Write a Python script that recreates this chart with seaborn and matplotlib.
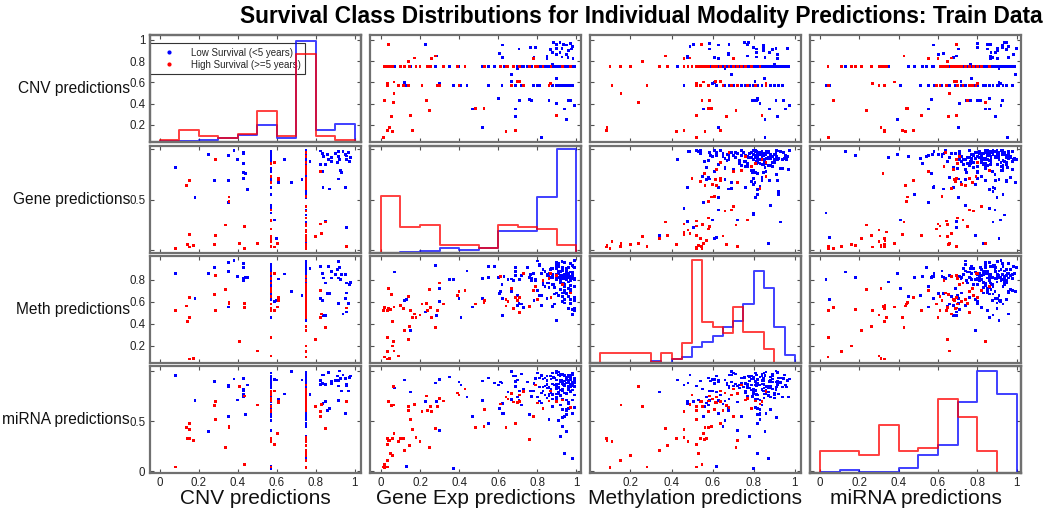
import matplotlib
matplotlib.use("Agg")
import matplotlib.pyplot as plt
from matplotlib.lines import Line2D
import pandas as pd
import seaborn as sns

# ---------------- text ----------------
title = "Survival Class Distributions for Individual Modality Predictions: Train Data"
variables = ["cnv", "gene", "meth", "mirna"]
row_labels = ["CNV predictions", "Gene predictions", "Meth predictions", "miRNA predictions"]
col_labels = ["CNV predictions", "Gene Exp predictions", "Methylation predictions", "miRNA predictions"]
class_labels = ["Low Survival (<5 years)", "High Survival (>=5 years)"]

# ---------------- per-sample predictions: Low Survival (blue) ----------------
low_cnv = [
    0.08, 0.18, 0.25, 0.28, 0.35, 0.35, 0.35, 0.38, 0.40, 0.43,
    0.43, 0.43, 0.43, 0.44, 0.43, 0.45, 0.61, 0.64, 0.675, 0.59,
    0.60, 0.73, 0.77, 0.825, 0.833, 0.84, 0.85, 0.867, 0.88, 0.915,
    0.918, 0.923, 0.913, 0.952, 0.957, 0.978, 0.973, 0.825, 0.833, 0.927,
    0.932, 0.915, 0.837, 0.87, 0.952, 0.85, 0.957, 0.86, 0.94, 0.90,
    0.97, 0.96, 0.88,
    0.57, 0.57, 0.57, 0.57, 0.57, 0.57, 0.57, 0.57, 0.57, 0.57, 0.57,
    0.57, 0.57, 0.57, 0.57, 0.57, 0.57, 0.57, 0.57, 0.57, 0.57, 0.57,
    0.75, 0.75, 0.75, 0.75, 0.75, 0.75, 0.75, 0.75, 0.75, 0.75,
    0.75, 0.75, 0.75, 0.75, 0.75, 0.75, 0.75, 0.75, 0.75, 0.75,
    0.75, 0.75, 0.75, 0.75, 0.75, 0.75, 0.75, 0.75, 0.75, 0.75,
    0.75, 0.75, 0.75, 0.75, 0.75, 0.75, 0.75, 0.75, 0.75, 0.75,
    0.75, 0.75, 0.75, 0.75, 0.75, 0.75, 0.75, 0.75, 0.75, 0.75,
    0.75, 0.75, 0.75, 0.75, 0.75, 0.75, 0.75, 0.75, 0.75, 0.75,
    0.75, 0.75, 0.75, 0.75, 0.75, 0.75, 0.75, 0.75, 0.75, 0.75,
    0.75, 0.75, 0.75, 0.75, 0.75, 0.75, 0.75, 0.75, 0.75, 0.75,
    0.75, 0.75, 0.75, 0.75, 0.75, 0.75, 0.75, 0.75, 0.75, 0.75,
    0.75, 0.75, 0.75, 0.75, 0.75, 0.75, 0.75, 0.75, 0.75, 0.75,
    0.75, 0.75, 0.75, 0.75, 0.75, 0.75, 0.75, 0.75, 0.75, 0.75,
    0.75, 0.75, 0.75, 0.75, 0.75, 0.75, 0.75, 0.75, 0.75, 0.75,
    0.75, 0.75, 0.75, 0.75, 0.75,
]
low_gene = [
    0.82, 0.52, 0.95, 0.69, 0.94, 0.69, 0.47, 0.99, 0.90, 0.97,
    0.96, 0.86, 0.77, 0.76, 0.71, 0.60, 0.67, 0.90, 0.67, 0.30,
    0.12, 0.70, 0.88, 0.983, 0.957, 0.927, 0.85, 0.90, 0.917, 0.977,
    0.927, 0.90, 0.867, 0.95, 0.933, 0.917, 0.883, 0.85, 0.783, 0.793,
    0.767, 0.707, 0.623, 0.607, 0.623, 0.283, 0.227, 0.95, 0.98, 0.96,
    0.97, 0.90, 0.88,
    0.13, 0.30, 0.37, 0.41, 0.44, 0.55, 0.62, 0.69, 0.72, 0.78, 0.80,
    0.81, 0.88, 0.91, 0.92, 0.93, 0.94, 0.95, 0.96, 0.97, 0.98, 0.90,
    0.96, 0.91, 0.84, 0.99, 0.93, 0.72, 0.97, 0.88, 0.95, 0.92,
    0.86, 0.98, 0.94, 0.90, 0.63, 0.97, 0.83, 0.95, 0.99, 0.91,
    0.93, 0.81, 0.96, 0.58, 0.92, 0.89, 0.98, 0.94, 0.77, 0.90,
    0.97, 0.85, 0.93, 0.95, 0.40, 0.91, 0.99, 0.87, 0.96, 0.92,
    0.82, 0.94, 0.98, 0.68, 0.90, 0.95, 0.86, 0.97, 0.93, 0.15,
    0.91, 0.99, 0.84, 0.96, 0.92, 0.75, 0.94, 0.88, 0.98, 0.90,
    0.95, 0.83, 0.97, 0.93, 0.52, 0.91, 0.86, 0.99, 0.96, 0.89,
    0.92, 0.98, 0.80, 0.94, 0.97, 0.65, 0.90, 0.95, 0.85, 0.93,
    0.99, 0.87, 0.91, 0.96, 0.28, 0.98, 0.82, 0.94, 0.92, 0.73,
    0.96, 0.90, 0.88, 0.97, 0.93, 0.84, 0.99, 0.61, 0.95, 0.91,
    0.86, 0.94, 0.98, 0.92, 0.79, 0.96, 0.89, 0.93, 0.35, 0.97,
    0.90, 0.83, 0.95, 0.99, 0.87, 0.92, 0.55, 0.98, 0.94, 0.81,
    0.93, 0.96, 0.07, 0.85, 0.70,
]
low_meth = [
    0.855, 0.63, 0.855, 0.914, 0.954, 0.877, 0.554, 0.975, 0.83, 0.945,
    0.908, 0.815, 0.794, 0.82, 0.80, 0.82, 0.806, 0.852, 0.69, 0.60,
    0.61, 0.66, 0.90, 0.917, 0.855, 0.815, 0.77, 0.917, 0.877, 0.815,
    0.963, 0.908, 0.892, 0.846, 0.77, 0.775, 0.754, 0.63, 0.61, 0.80,
    0.846, 0.585, 0.477, 0.677, 0.63, 0.477, 0.508, 0.677, 0.49, 0.846,
    0.585, 0.68, 0.815,
    0.62, 0.72, 0.80, 0.46, 0.88, 0.92, 0.76, 0.84, 0.58, 0.86, 0.70,
    0.94, 0.82, 0.66, 0.78, 0.88, 0.74, 0.90, 0.54, 0.82, 0.86, 0.68,
    0.82, 0.87, 0.74, 0.91, 0.68, 0.84, 0.79, 0.56, 0.88, 0.81,
    0.77, 0.93, 0.62, 0.85, 0.83, 0.71, 0.89, 0.80, 0.52, 0.86,
    0.84, 0.66, 0.78, 0.92, 0.82, 0.73, 0.87, 0.59, 0.81, 0.96,
    0.69, 0.85, 0.76, 0.83, 0.63, 0.88, 0.80, 0.90, 0.72, 0.84,
    0.57, 0.81, 0.86, 0.79, 0.94, 0.67, 0.83, 0.75, 0.89, 0.34,
    0.82, 0.61, 0.87, 0.78, 0.84, 0.91, 0.70, 0.85, 0.53, 0.80,
    0.88, 0.76, 0.83, 0.65, 0.81, 0.92, 0.86, 0.74, 0.82, 0.58,
    0.79, 0.84, 0.97, 0.68, 0.87, 0.80, 0.43, 0.83, 0.77, 0.89,
    0.64, 0.82, 0.86, 0.72, 0.93, 0.81, 0.66, 0.85, 0.78, 0.55,
    0.84, 0.90, 0.76, 0.83, 0.60, 0.88, 0.81, 0.69, 0.86, 0.95,
    0.73, 0.82, 0.48, 0.87, 0.79, 0.84, 0.67, 0.91, 0.80, 0.62,
    0.85, 0.77, 0.83, 0.54, 0.89, 0.71, 0.82, 0.86, 0.76, 0.93,
    0.81, 0.65, 0.87, 0.84, 0.57,
]
low_mirna = [
    0.953, 0.703, 0.393, 0.893, 0.86, 0.843, 0.55, 0.92, 0.71, 0.927,
    0.817, 0.767, 0.743, 0.567, 0.80, 0.86, 0.717, 0.77, 0.993, 0.917,
    0.91, 0.91, 0.767, 0.867, 0.96, 0.96, 0.867, 0.983, 0.893, 0.85,
    0.903, 1.0, 0.95, 0.927, 0.867, 0.95, 0.937, 0.903, 0.877, 0.927,
    0.80, 0.703, 0.677, 0.627, 0.577, 0.693, 0.693, 0.603, 0.96, 0.903,
    0.80, 0.85, 0.87,
    0.05, 0.41, 0.03, 0.86, 0.74, 0.93, 0.88, 0.95, 0.66, 0.80, 0.98,
    0.84, 0.72, 0.51, 0.90, 0.62, 0.55, 0.78, 0.69, 0.91, 0.58, 0.83,
    0.88, 0.79, 0.93, 0.84, 0.72, 0.97, 0.86, 0.65, 0.91, 0.81,
    0.75, 0.89, 0.95, 0.83, 0.58, 0.87, 0.92, 0.77, 0.85, 0.99,
    0.82, 0.70, 0.94, 0.88, 0.76, 0.86, 0.13, 0.90, 0.80, 0.84,
    0.96, 0.73, 0.87, 0.62, 0.89, 0.83, 0.93, 0.78, 0.85, 0.91,
    0.68, 0.86, 0.81, 0.95, 0.74, 0.88, 0.52, 0.84, 0.97, 0.79,
    0.87, 0.92, 0.76, 0.83, 0.66, 0.89, 0.85, 0.98, 0.71, 0.82,
    0.94, 0.80, 0.86, 0.45, 0.90, 0.77, 0.84, 0.88, 0.63, 0.93,
    0.81, 0.87, 0.74, 0.96, 0.85, 0.79, 0.91, 0.57, 0.83, 0.89,
    0.76, 0.92, 0.84, 0.69, 0.88, 0.98, 0.78, 0.86, 0.35, 0.82,
    0.90, 0.73, 0.87, 0.94, 0.80, 0.85, 0.64, 0.89, 0.77, 0.96,
    0.83, 0.18, 0.88, 0.75, 0.92, 0.81, 0.86, 0.54, 0.94, 0.79,
    0.87, 0.84, 0.71, 0.90, 0.82, 0.97, 0.48, 0.85, 0.78, 0.93,
    0.89, 0.67, 0.83, 0.95, 0.74,
]

# ---------------- per-sample predictions: High Survival (red) ----------------
high_cnv = [
    0.957, 0.83, 0.80, 0.825, 0.85, 0.825, 0.50, 0.434, 0.41, 0.434,
    0.337, 0.28, 0.286, 0.354, 0.354, 0.286, 0.173, 0.15, 0.14, 0.15,
    0.136, 0.15, 0.08, 0.587, 0.607, 0.607, 0.604, 0.59,
    0.57, 0.57, 0.57, 0.57, 0.57, 0.57, 0.57, 0.57, 0.57, 0.57, 0.57,
    0.75, 0.75, 0.75, 0.75, 0.75, 0.75, 0.75, 0.75, 0.75, 0.75,
    0.75, 0.75, 0.75, 0.75, 0.75, 0.75, 0.75, 0.75, 0.75, 0.75,
    0.75, 0.75, 0.75, 0.75, 0.75, 0.75, 0.75, 0.75,
]
high_gene = [
    0.04, 0.17, 0.14, 0.26, 0.28, 0.78, 0.067, 0.017, 0.065, 0.233,
    0.25, 0.055, 0.15, 0.527, 0.483, 0.90, 0.045, 0.033, 0.058, 0.16,
    0.64, 0.69, 0.015, 0.867, 0.71, 0.70, 0.067, 0.033,
    0.034, 0.088, 0.114, 0.141, 0.21, 0.29, 0.30, 0.40, 0.67, 0.73, 0.86,
    0.017, 0.034, 0.06, 0.12, 0.145, 0.18, 0.24, 0.255, 0.32, 0.64,
    0.39, 0.43, 0.79, 0.83, 0.61, 0.65, 0.68, 0.71, 0.87, 0.04,
    0.10, 0.20, 0.05, 0.97, 0.93, 0.80, 0.76, 0.53,
]
high_meth = [
    0.545, 0.49, 0.26, 0.46, 0.37, 0.70, 0.154, 0.548, 0.24, 0.585,
    0.714, 0.668, 0.523, 0.594, 0.58, 0.84, 0.086, 0.083, 0.425, 0.46,
    0.563, 0.637, 0.523, 0.86, 0.637, 0.615, 0.554, 0.523,
    0.28, 0.11, 0.54, 0.65, 0.58, 0.52, 0.77, 0.69, 0.72, 0.86, 0.81,
    0.10, 0.15, 0.20, 0.34, 0.38, 0.46, 0.52, 0.55, 0.58, 0.62,
    0.66, 0.70, 0.74, 0.79, 0.83, 0.60, 0.54, 0.50, 0.64, 0.72,
    0.57, 0.48, 0.53, 0.68, 0.76, 0.62, 0.56, 0.61,
]
high_mirna = [
    0.693, 0.667, 0.65, 0.60, 0.427, 0.55, 0.66, 0.07, 0.843, 0.75,
    0.237, 0.653, 0.517, 0.443, 0.44, 0.693, 0.31, 0.327, 0.327, 0.42,
    0.433, 0.477, 0.043, 0.80, 0.693, 0.683, 0.377, 0.267,
    0.043, 0.30, 0.327, 0.61, 0.593, 0.643, 0.727, 0.76, 0.777, 0.793, 0.70,
    0.04, 0.11, 0.16, 0.21, 0.26, 0.34, 0.61, 0.65, 0.70, 0.74,
    0.78, 0.82, 0.86, 0.63, 0.67, 0.72, 0.69, 0.76, 0.80, 0.31,
    0.33, 0.30, 0.18, 0.64, 0.71, 0.68, 0.32, 0.62,
]

# ---------------- diagonal histograms (bin edges, relative heights as drawn) ----------------
cnv_edges = [0.0, 0.1, 0.2, 0.3, 0.4, 0.5, 0.6, 0.7, 0.8, 0.9, 1.0]
cnv_hist_low = [0.009, 0.009, 0.022, 0.040, 0.062, 0.163, 0.040, 0.948, 0.108, 0.169]
cnv_hist_high = [0.022, 0.114, 0.055, 0.040, 0.074, 0.292, 0.055, 0.825, 0.055, 0.022]
gene_edges = [0.0, 0.1, 0.2, 0.3, 0.4, 0.5, 0.6, 0.7, 0.8, 0.9, 1.0]
gene_hist_low = [0.0, 0.009, 0.016, 0.047, 0.031, 0.047, 0.204, 0.204, 0.522, 0.969]
gene_hist_high = [0.535, 0.245, 0.264, 0.072, 0.072, 0.047, 0.264, 0.245, 0.220, 0.072]
meth_edges = [0.05, 0.10, 0.15, 0.20, 0.25, 0.30, 0.35, 0.40, 0.45, 0.50,
              0.55, 0.60, 0.65, 0.70, 0.75, 0.80, 0.85, 0.90, 0.95, 1.00]
meth_hist_low = [0.0, 0.0, 0.0, 0.0, 0.0, 0.016, 0.0, 0.041, 0.057, 0.151,
                 0.198, 0.252, 0.333, 0.396, 0.550, 0.858, 0.700, 0.333, 0.079]
meth_hist_high = [0.094, 0.094, 0.094, 0.094, 0.094, 0.009, 0.094, 0.041, 0.189, 0.959,
                  0.387, 0.340, 0.283, 0.522, 0.292, 0.292, 0.135, 0.0, 0.0]
mirna_edges = [0.0, 0.1, 0.2, 0.3, 0.4, 0.5, 0.6, 0.7, 0.8, 0.9, 1.0]
mirna_hist_low = [0.006, 0.025, 0.006, 0.006, 0.047, 0.166, 0.259, 0.666, 0.956, 0.738]
mirna_hist_high = [0.206, 0.206, 0.166, 0.447, 0.206, 0.238, 0.691, 0.519, 0.206, 0.0]

# ---------------- axes ranges and ticks ----------------
x_limits = {"cnv": (-0.054, 1.03), "gene": (-0.056, 1.024), "meth": (0.003, 1.03), "mirna": (-0.051, 1.022)}
y_limits = {"cnv": (0.04, 1.047), "gene": (-0.027, 1.033), "meth": (0.046, 1.015), "mirna": (-0.017, 1.05)}
x_ticks = {"cnv": [0, 0.2, 0.4, 0.6, 0.8, 1], "gene": [0, 0.2, 0.4, 0.6, 0.8, 1],
           "meth": [0.2, 0.4, 0.6, 0.8, 1], "mirna": [0, 0.2, 0.4, 0.6, 0.8, 1]}
x_tick_labels = {"cnv": ["0", "0.2", "0.4", "0.6", "0.8", "1"], "gene": ["0", "0.2", "0.4", "0.6", "0.8", "1"],
                 "meth": ["0.2", "0.4", "0.6", "0.8", "1"], "mirna": ["0", "0.2", "0.4", "0.6", "0.8", "1"]}
y_ticks = {"cnv": [0.2, 0.4, 0.6, 0.8, 1], "gene": [0, 0.5, 1], "meth": [0.2, 0.4, 0.6, 0.8], "mirna": [0, 0.5, 1]}
y_tick_labels = {"cnv": ["0.2", "0.4", "0.6", "0.8", "1"], "gene": ["", "0.5", ""],
                 "meth": ["0.2", "0.4", "0.6", "0.8"], "mirna": ["0", "0.5", ""]}

hists = {
    "cnv": (cnv_edges, cnv_hist_low, cnv_hist_high),
    "gene": (gene_edges, gene_hist_low, gene_hist_high),
    "meth": (meth_edges, meth_hist_low, meth_hist_high),
    "mirna": (mirna_edges, mirna_hist_low, mirna_hist_high),
}

df = pd.DataFrame({
    "cnv": low_cnv + high_cnv,
    "gene": low_gene + high_gene,
    "meth": low_meth + high_meth,
    "mirna": low_mirna + high_mirna,
    "cls": [class_labels[0]] * len(low_cnv) + [class_labels[1]] * len(high_cnv),
})

BLUE = "#0000ff"
RED = "#ff0000"
palette = {class_labels[0]: BLUE, class_labels[1]: RED}

sns.set_theme(style="white")
plt.rcParams["font.family"] = ["Liberation Sans", "DejaVu Sans"]

W, H = 1050, 518
fig = plt.figure(figsize=(W / 100, H / 100), dpi=100)

col_left = [149.5, 370.0, 590.0, 810.0]
col_width = 211.0
row_top = [35.0, 146.0, 256.0, 366.0]
row_height = 107.0
frame_color = "#707070"
tick_color = "#505050"


def style_frame(a):
    for s in a.spines.values():
        s.set_visible(True)
        s.set_color(frame_color)
        s.set_linewidth(1.6)


first_ax = None
for i, yv in enumerate(variables):
    for j, xv in enumerate(variables):
        rect = [col_left[j] / W, 1 - (row_top[i] + row_height) / H, col_width / W, row_height / H]
        ax = fig.add_axes(rect)
        ax.set_facecolor("white")
        if i != j:
            sns.scatterplot(data=df, x=xv, y=yv, hue="cls", palette=palette, s=4,
                            linewidth=0, marker="s", legend=False, ax=ax)
        else:
            hax = ax.twinx()
            edges, h_low, h_high = hists[xv]
            w = edges[1] - edges[0]
            ext = [edges[0] - w] + list(edges) + [edges[-1] + w]
            centers = [(ext[k] + ext[k + 1]) / 2 for k in range(len(ext) - 1)]
            for heights, c in ((h_low, BLUE), (h_high, RED)):
                sns.histplot(x=centers, weights=[0.0] + list(heights) + [0.0], bins=ext,
                             element="step", fill=False, color=c, linewidth=1.4, alpha=0.75, ax=hax)
            hax.set_ylim(0, 1)
            hax.set_yticks([])
            hax.set_ylabel("")
            hax.set_xlabel("")
            style_frame(hax)
        ax.set_xlim(*x_limits[xv])
        ax.set_ylim(*y_limits[yv])
        ax.set_xticks(x_ticks[xv])
        ax.set_xticklabels(x_tick_labels[xv])
        ax.set_yticks(y_ticks[yv])
        ax.set_yticklabels(y_tick_labels[yv])
        ax.set_xlabel("")
        ax.set_ylabel("")
        ax.tick_params(axis="both", which="both", direction="in", length=3, width=0.8,
                       color=tick_color, labelsize=8.3, pad=3,
                       top=True, bottom=True, left=True, right=True,
                       labelleft=(j == 0), labelbottom=(i == 3),
                       labeltop=False, labelright=False, labelcolor="#222222")
        style_frame(ax)
        if i == 0 and j == 0:
            first_ax = ax

# legend in the top-left panel
handles = [Line2D([], [], linestyle="", marker=".", color=BLUE, markersize=4),
           Line2D([], [], linestyle="", marker=".", color=RED, markersize=4)]
leg = first_ax.legend(handles, class_labels, loc="upper left", bbox_to_anchor=(0.0, 0.922),
                      borderaxespad=0.0, fontsize=7, frameon=True, fancybox=False,
                      edgecolor="#333333", framealpha=1.0, borderpad=0.45,
                      handlelength=3.2, handletextpad=0.6, labelspacing=0.2)
leg.get_frame().set_linewidth(0.8)
leg.set_zorder(10)

# title and labels
fig.text(641 / W, 1 - 17 / H, title, ha="center", va="center", fontsize=16.4,
         fontweight="bold", color="black")
for i, lab in enumerate(row_labels):
    fig.text(130 / W, 1 - (row_top[i] + row_height / 2) / H, lab, ha="right", va="center",
             fontsize=11.2, color="#111111")
for j, lab in enumerate(col_labels):
    fig.text((col_left[j] + col_width / 2) / W, 1 - 499 / H, lab, ha="center", va="center",
             fontsize=15, color="#111111")

fig.savefig("out.png", dpi=100)
